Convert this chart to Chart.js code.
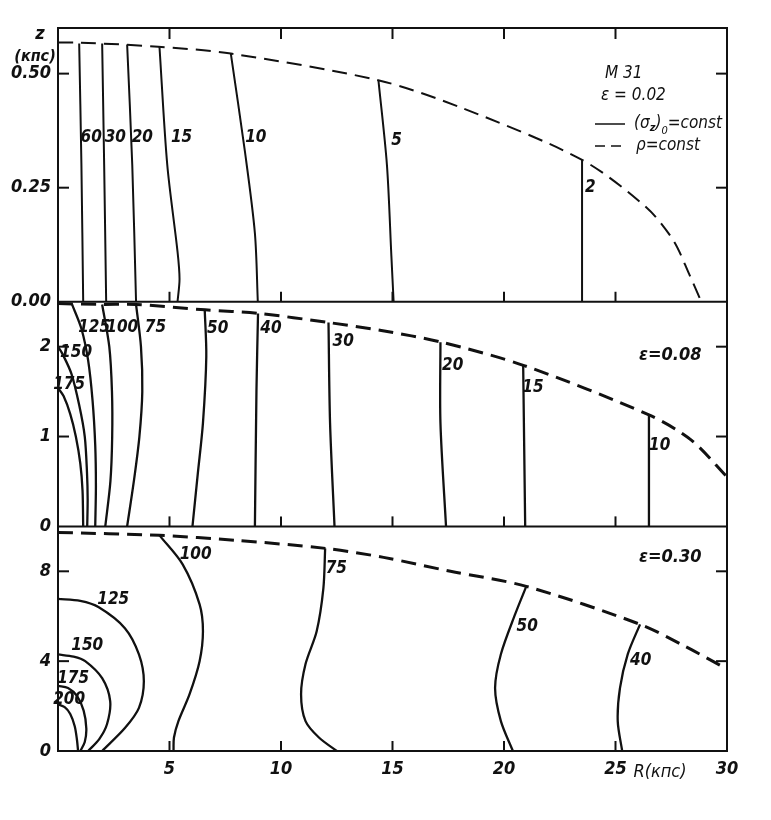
<!DOCTYPE html>
<html>
<head>
<meta charset="utf-8">
<script src="https://cdn.jsdelivr.net/npm/chart.js@4.4.1/dist/chart.umd.min.js"></script>
<style>
  html, body { margin: 0; padding: 0; background: #fff; }
  #wrap { width: 771px; height: 820px; position: relative; }
</style>
</head>
<body>
<div id="wrap"><canvas id="c" width="771" height="820"></canvas></div>
<script>
// ============ DATA ============
// Panel 1 : eps = 0.02   (R in kpc, z in kpc)
const p1Levels = ['60', '30', '20', '15', '10', '5', '2'];
const p1R = [
  [0.95, 1.05, 1.13],
  [1.98, 2.07, 2.16],
  [3.1, 3.33, 3.5],
  [4.55, 4.9, 5.36, 5.45, 5.36],
  [7.75, 8.38, 8.83, 8.96],
  [14.37, 14.75, 14.95, 15.05],
  [23.5, 23.5],
];
const p1Z = [
  [0.566, 0.3, 0],
  [0.566, 0.3, 0],
  [0.564, 0.3, 0],
  [0.559, 0.3, 0.11, 0.05, 0],
  [0.544, 0.33, 0.15, 0],
  [0.485, 0.3, 0.1, 0],
  [0.311, 0],
];
const p1EdgeR = [0, 1, 4.5, 7.75, 14.4, 18.1, 23.5, 26.4, 27.6, 28.3, 28.85];
const p1EdgeZ = [0.568, 0.568, 0.559, 0.544, 0.485, 0.425, 0.311, 0.206, 0.134, 0.061, 0];
const p1LabelR = [1.49, 2.57, 3.78, 5.54, 8.87, 15.18, 23.87];
const p1LabelZ = [0.36, 0.36, 0.36, 0.36, 0.36, 0.353, 0.25];

// Panel 2 : eps = 0.08
const p2Levels = ['175', '150', '125', '100', '75', '50', '40', '30', '20', '15', '10'];
const p2R = [
  [0, 0.25, 0.55, 0.8, 1.0, 1.1, 1.13],
  [0, 0.2, 0.6, 0.95, 1.2, 1.3, 1.33, 1.31],
  [0.63, 1.05, 1.35, 1.55, 1.67, 1.7, 1.67],
  [1.98, 2.3, 2.42, 2.43, 2.35, 2.12],
  [3.5, 3.72, 3.78, 3.65, 3.4, 3.1],
  [6.58, 6.65, 6.5, 6.27, 6.03],
  [8.97, 8.9, 8.83],
  [12.13, 12.2, 12.4],
  [17.15, 17.15, 17.4],
  [20.86, 20.95],
  [26.5, 26.5],
];
const p2Z = [
  [1.54, 1.45, 1.25, 1.0, 0.7, 0.4, 0],
  [2.0, 1.92, 1.7, 1.35, 1.0, 0.6, 0.3, 0],
  [2.47, 2.2, 1.85, 1.4, 0.9, 0.45, 0],
  [2.47, 2.0, 1.5, 1.0, 0.5, 0],
  [2.47, 2.0, 1.5, 1.0, 0.5, 0],
  [2.41, 1.89, 1.15, 0.59, 0],
  [2.37, 1.52, 0],
  [2.27, 1.15, 0],
  [2.05, 1.15, 0],
  [1.79, 0],
  [1.24, 0],
];
const p2EdgeR = [0, 2, 3.5, 6.6, 9, 12.1, 14.5, 17.2, 20.9, 26.5, 28.4, 30];
const p2EdgeZ = [2.48, 2.47, 2.47, 2.41, 2.37, 2.27, 2.18, 2.05, 1.79, 1.24, 0.96, 0.55];
const p2LabelR = [0.5, 0.81, 1.62, 2.88, 4.37, 7.16, 9.55, 12.79, 17.7, 21.3, 26.98];
const p2LabelZ = [1.58, 1.93, 2.21, 2.21, 2.21, 2.2, 2.2, 2.06, 1.79, 1.54, 0.9];

// Panel 3 : eps = 0.30
const p3Levels = ['200', '175', '150', '125', '100', '75', '50', '40'];
const p3R = [
  [0, 0.3, 0.55, 0.75, 0.85, 0.9],
  [0, 0.45, 0.85, 1.15, 1.27, 1.2, 1.0],
  [0, 0.7, 1.22, 1.98, 2.34, 2.2, 1.85, 1.35],
  [0, 1.0, 1.83, 3.0, 3.63, 3.85, 3.63, 3.0, 1.98],
  [4.55, 5.59, 6.35, 6.5, 6.35, 5.9, 5.4, 5.2, 5.18],
  [11.98, 11.9, 11.6, 11.1, 10.9, 11.1, 11.7, 12.5],
  [21.0, 20.5, 19.86, 19.6, 19.86, 20.4],
  [26.1, 25.55, 25.2, 25.1, 25.3],
];
const p3Z = [
  [2.08, 1.95, 1.65, 1.1, 0.5, 0],
  [2.9, 2.8, 2.45, 1.8, 1.0, 0.4, 0],
  [4.3, 4.2, 4.0, 3.24, 2.22, 1.2, 0.53, 0],
  [6.77, 6.68, 6.4, 5.47, 4.3, 3.1, 1.92, 1.02, 0],
  [9.6, 8.31, 6.53, 5.33, 4.0, 2.53, 1.33, 0.6, 0],
  [9.02, 7.24, 5.33, 3.87, 2.53, 1.33, 0.6, 0],
  [7.33, 6.09, 4.31, 2.8, 1.33, 0],
  [5.64, 4.31, 2.8, 1.33, 0],
];
const p3EdgeR = [0, 4.55, 7.97, 12, 14.6, 17.6, 21, 26.1, 28.1, 30];
const p3EdgeZ = [9.73, 9.6, 9.38, 9.02, 8.62, 8.0, 7.33, 5.64, 4.67, 3.65];
const p3LabelR = [0.5, 0.68, 1.31, 2.48, 6.17, 12.48, 21.04, 26.13];
const p3LabelZ = [2.31, 3.24, 4.71, 6.76, 8.76, 8.13, 5.56, 4.04];

const xTickVals = [5, 10, 15, 20, 25, 30];

// ============ HELPERS ============
const FONT = '"Liberation Sans Narrow", "DejaVu Sans Condensed", "Liberation Sans", sans-serif';
const INK = '#111';

const pts = (rs, zs) => rs.map((r, i) => ({ x: r, y: zs[i] }));

function contourSets(rList, zList, axis, w) {
  return rList.map((rs, i) => ({
    data: pts(rs, zList[i]), yAxisID: axis, showLine: true,
    borderColor: INK, borderWidth: w, pointRadius: 0, tension: 0.3,
  }));
}

function edgeSet(rs, zs, axis, w) {
  return {
    data: pts(rs, zs), yAxisID: axis, showLine: true,
    borderColor: INK, borderWidth: w, borderDash: [15, 8], pointRadius: 0, tension: 0.3,
  };
}

// stacked y axes: the first one defined ends up at the bottom
function yAxis(max, step, weight, fmt) {
  return {
    type: 'linear', position: 'left', stack: 'panels', stackWeight: weight,
    min: 0, max,
    grid: { display: false, drawTicks: false },
    border: { display: false },
    ticks: {
      stepSize: step, includeBounds: false, padding: 7, color: INK,
      font: { family: FONT, size: 18, style: 'italic', weight: 'bold' },
      callback: fmt,
    },
    afterFit(s) { s.width = 58; },
  };
}

// ============ PLUGIN: frame, inward ticks, texts ============
const labelSets = [
  ['y1', p1Levels, p1LabelR, p1LabelZ],
  ['y2', p2Levels, p2LabelR, p2LabelZ],
  ['y3', p3Levels, p3LabelR, p3LabelZ],
];

const decor = {
  id: 'decor',
  afterDraw(chart) {
    const { ctx, chartArea: a, scales } = chart;
    const xs = scales.x;
    const line = (x1, y1, x2, y2) => { ctx.beginPath(); ctx.moveTo(x1, y1); ctx.lineTo(x2, y2); ctx.stroke(); };
    ctx.save();
    ctx.strokeStyle = INK; ctx.lineWidth = 2; ctx.setLineDash([]);
    ctx.strokeRect(a.left, a.top, a.right - a.left, a.bottom - a.top);

    ['y1', 'y2', 'y3'].forEach(id => {
      const ys = scales[id];
      const yb = ys.getPixelForValue(ys.min);
      line(a.left, yb, a.right, yb);
      ys.ticks.forEach(t => {
        if (t.value === ys.min) return;
        const y = ys.getPixelForValue(t.value);
        line(a.left, y, a.left + 11, y);
        line(a.right - 11, y, a.right, y);
      });
      xTickVals.forEach(v => {
        if (v >= xs.max) return;
        const x = xs.getPixelForValue(v);
        line(x, yb, x, yb - 10);
      });
    });
    // top ticks of the upper panel
    const yt = scales.y1.getPixelForValue(scales.y1.max);
    xTickVals.forEach(v => {
      if (v >= xs.max) return;
      const x = xs.getPixelForValue(v);
      line(x, yt, x, yt + 11);
    });

    // contour labels
    ctx.fillStyle = INK;
    ctx.textAlign = 'center'; ctx.textBaseline = 'middle';
    ctx.font = `italic bold 17px ${FONT}`;
    labelSets.forEach(([id, txt, rs, zs]) => {
      const ys = scales[id];
      txt.forEach((t, i) => ctx.fillText(t, xs.getPixelForValue(rs[i]), ys.getPixelForValue(zs[i])));
    });

    // axis titles
    ctx.font = `italic bold 18px ${FONT}`;
    ctx.fillText('z', 40, 34);
    ctx.font = `italic bold 16px ${FONT}`;
    ctx.fillText('(кпс)', 35, 57);
    ctx.font = `italic 18px ${FONT}`;
    ctx.fillText('R(кпс)', 660, 772);

    // legend + eps labels
    ctx.textAlign = 'left';
    ctx.font = `italic 17px ${FONT}`;
    ctx.fillText('M 31', 605, 74);
    ctx.fillText('ε = 0.02', 601, 96);
    ctx.font = `italic bold 18px ${FONT}`;
    ctx.fillText('ε=0.08', 639, 355);
    ctx.fillText('ε=0.30', 639, 557);

    ctx.lineWidth = 1.5;
    line(595, 124, 625, 124);
    ctx.setLineDash([10, 6]);
    line(595, 146, 627, 146);
    ctx.setLineDash([]);
    ctx.font = `italic 17px ${FONT}`;
    let x = 634;
    ctx.fillText('(σ', x, 124); x += ctx.measureText('(σ').width;
    ctx.font = `italic bold 11px ${FONT}`;
    ctx.fillText('z', x, 128); x += ctx.measureText('z').width;
    ctx.font = `italic 17px ${FONT}`;
    ctx.fillText(')', x, 124); x += ctx.measureText(')').width;
    ctx.font = `italic 11px ${FONT}`;
    ctx.fillText('0', x, 131); x += ctx.measureText('0').width;
    ctx.font = `italic 17px ${FONT}`;
    ctx.fillText('=const', x, 124);
    ctx.fillText('ρ=const', 636, 146);
    ctx.restore();
  },
};

// ============ CHART ============
new Chart(document.getElementById('c'), {
  type: 'scatter',
  data: {
    datasets: [
      ...contourSets(p1R, p1Z, 'y1', 2), edgeSet(p1EdgeR, p1EdgeZ, 'y1', 2),
      ...contourSets(p2R, p2Z, 'y2', 2.3), edgeSet(p2EdgeR, p2EdgeZ, 'y2', 3),
      ...contourSets(p3R, p3Z, 'y3', 2.3), edgeSet(p3EdgeR, p3EdgeZ, 'y3', 3),
    ],
  },
  options: {
    responsive: false, animation: false,
    layout: { padding: { left: 0, top: 28, right: 44, bottom: 0 } },
    plugins: { legend: { display: false }, tooltip: { enabled: false } },
    scales: {
      x: {
        type: 'linear', min: 0, max: 30,
        grid: { display: false, drawTicks: false }, border: { display: false },
        ticks: {
          stepSize: 5, padding: 8, color: INK,
          font: { family: FONT, size: 18, style: 'italic', weight: 'bold' },
          callback: v => (xTickVals.includes(v) ? String(v) : ''),
        },
        afterFit(s) { s.height = 69; },
      },
      y3: yAxis(10, 4, 224, v => String(v)),
      y2: yAxis(2.5, 1, 224, v => String(v)),
      y1: yAxis(0.6, 0.25, 273, v => v.toFixed(2)),
    },
  },
  plugins: [decor],
});
</script>
</body>
</html>
